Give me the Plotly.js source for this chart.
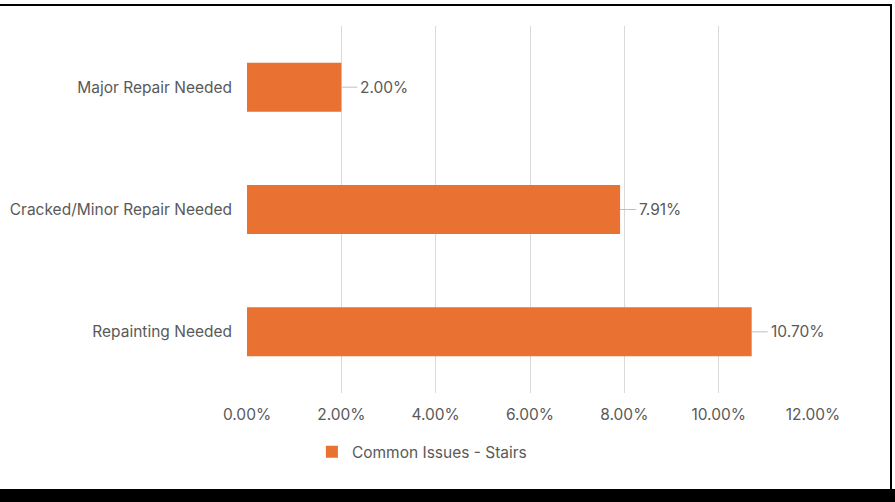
<!DOCTYPE html>
<html>
<head>
<meta charset="utf-8">
<script src="https://cdn.plot.ly/plotly-3.0.1.min.js"></script>
<style>
  html, body { margin: 0; padding: 0; background: #ffffff; width: 895px; height: 502px; overflow: hidden; }
  #chart { position: absolute; left: 0; top: 0; width: 895px; height: 502px; }
  #frameTop { position: absolute; left: 0; top: 4px; width: 892px; height: 2px; background: #000; pointer-events: none; }
  #frameRight { position: absolute; left: 890px; top: 4px; width: 2px; height: 486px; background: #000; pointer-events: none; }
  #frameBottom { position: absolute; left: 0; top: 489px; width: 895px; height: 13px; background: #000; pointer-events: none; }
</style>
</head>
<body>
<div id="chart"></div>
<div id="frameTop"></div>
<div id="frameRight"></div>
<div id="frameBottom"></div>
<script>
// Data
const categories = ["Repainting Needed", "Cracked/Minor Repair Needed", "Major Repair Needed"];
const values = [10.70, 7.91, 2.00];
const seriesName = "Common Issues - Stairs";
const tickValues = [0, 2, 4, 6, 8, 10, 12];
const tickLabels = ["0.00%", "2.00%", "4.00%", "6.00%", "8.00%", "10.00%", "12.00%"];

const barColor = "#E97132";
const textColor = "#595959";
const fontFamily = "Inter, Open Sans, Liberation Sans, sans-serif";
const fontSize = 15.5;

const trace = {
  type: "bar",
  orientation: "h",
  name: seriesName,
  y: categories,
  x: values,
  marker: { color: barColor },
  width: 0.4,
  hoverinfo: "skip",
  showlegend: true
};

const annotations = values.map((v, i) => ({
  x: v,
  y: categories[i],
  xref: "x",
  yref: "y",
  text: v.toFixed(2) + "%",
  showarrow: true,
  arrowhead: 0,
  arrowwidth: 1,
  arrowcolor: "#BFBFBF",
  standoff: 0,
  startstandoff: 0,
  ax: 16,
  ay: 0,
  xanchor: "left",
  yanchor: "middle",
  borderpad: 2,
  font: { family: fontFamily, size: fontSize, color: textColor }
}));

const layout = {
  width: 895,
  height: 502,
  margin: { l: 247, r: 82, t: 26, b: 109 },
  paper_bgcolor: "#ffffff",
  plot_bgcolor: "#ffffff",
  font: { family: fontFamily, size: fontSize, color: textColor },
  bargap: 0.6,
  xaxis: {
    range: [0, 12],
    tickvals: tickValues,
    ticktext: tickLabels,
    showgrid: true,
    gridcolor: "#D9D9D9",
    gridwidth: 1,
    zeroline: false,
    showline: false,
    ticks: "",
    ticklabelstandoff: 10,
    tickfont: { family: fontFamily, size: fontSize, color: textColor },
    fixedrange: true
  },
  yaxis: {
    type: "category",
    categoryorder: "array",
    categoryarray: categories,
    showgrid: false,
    zeroline: false,
    showline: false,
    ticks: "",
    ticklabelstandoff: 14,
    tickfont: { family: fontFamily, size: fontSize, color: textColor },
    fixedrange: true
  },
  showlegend: true,
  legend: {
    orientation: "h",
    x: 0.309,
    xanchor: "center",
    y: -0.115,
    yanchor: "top",
    font: { family: fontFamily, size: fontSize, color: textColor },
    itemwidth: 30,
    bgcolor: "rgba(0,0,0,0)"
  },
  annotations: annotations
};

Plotly.newPlot("chart", [trace], layout, { displayModeBar: false, staticPlot: true });
</script>
</body>
</html>
